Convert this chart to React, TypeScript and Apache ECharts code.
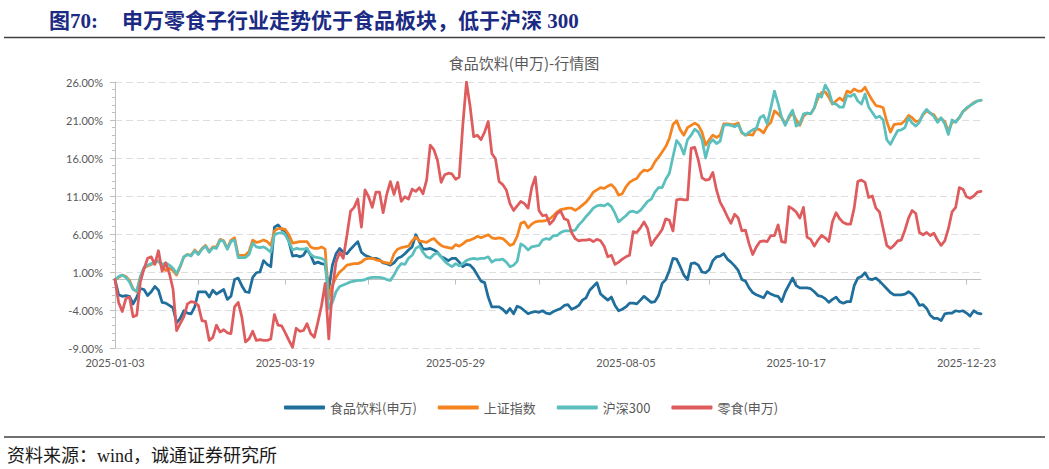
import React, { useEffect, useRef } from 'react';
import * as echarts from 'echarts';

// ---------- categories (trading days) ----------
const HOLIDAYS: string[] = [
  '2025-01-28', '2025-01-29', '2025-01-30', '2025-01-31', '2025-02-03', '2025-02-04',
  '2025-04-04', '2025-05-01', '2025-05-02', '2025-05-05', '2025-06-02',
  '2025-10-01', '2025-10-02', '2025-10-03', '2025-10-06', '2025-10-07', '2025-10-08',
];
function buildTradingDays(start: string, end: string, holidays: string[]): string[] {
  const out: string[] = [];
  const [sy, sm, sd] = start.split('-').map(Number);
  const [ey, em, ed] = end.split('-').map(Number);
  let t = Date.UTC(sy, sm - 1, sd);
  const tEnd = Date.UTC(ey, em - 1, ed);
  while (t <= tEnd) {
    const d = new Date(t);
    const wd = d.getUTCDay();
    const s = d.toISOString().slice(0, 10);
    if (wd !== 0 && wd !== 6 && holidays.indexOf(s) < 0) out.push(s);
    t += 86400000;
  }
  return out;
}
const categories: string[] = buildTradingDays('2025-01-03', '2025-12-29', HOLIDAYS);

const seriesNames = ['食品饮料(申万)', '上证指数', '沪深300', '零食(申万)'];

// ---------- series values (%) ----------
const foodBeverage: number[] = [
  0.0, -2.0, -2.2, -2.1, -2.2, -3.2, -2.3, -1.2, -1.3, -2.1,
  -1.6, -0.9, -1.4, -3.0, -3.1, -3.4, -3.7, -5.7, -5.1, -4.1,
  -4.4, -4.5, -3.6, -1.6, -1.6, -1.6, -2.3, -1.4, -1.9, -1.6,
  -1.3, -2.6, -2.2, 0.0, 0.2, -0.8, -1.6, -1.7, 0.3, 0.9,
  1.0, 2.5, 2.0, 1.7, 6.9, 7.2, 6.6, 6.4, 5.0, 3.1,
  3.2, 3.0, 3.2, 4.0, 3.2, 2.1, 2.3, 2.1, 2.0, -1.2,
  1.9, 3.4, 4.1, 3.6, 3.4, 4.0, 4.5, 5.0, 3.6, 3.2,
  3.0, 2.8, 2.8, 2.6, 2.2, 2.1, 1.9, 2.2, 2.8, 3.0,
  3.4, 3.9, 4.3, 5.9, 5.0, 4.0, 4.0, 4.1, 3.9, 3.6,
  3.0, 2.8, 2.5, 2.8, 2.8, 2.3, 1.7, 2.0, 1.9, 1.4,
  0.6, -0.2, -0.4, -2.3, -3.6, -3.6, -3.6, -3.9, -4.4, -3.8,
  -4.5, -3.5, -3.7, -4.1, -4.5, -4.3, -4.2, -4.3, -4.1, -4.4,
  -4.5, -4.2, -4.0, -3.8, -3.4, -3.3, -3.9, -3.7, -3.4, -2.7,
  -2.4, -1.4, -0.9, -0.4, -1.9, -2.3, -2.7, -2.3, -3.4, -4.1,
  -3.9, -3.6, -3.1, -3.1, -3.2, -2.7, -2.2, -2.6, -3.0, -2.9,
  -2.1, -0.5, 0.0, 1.2, 2.8, 2.7, 1.7, 0.6, 0.0, 2.1,
  2.2, 1.9, 1.0, 0.9, 1.3, 2.5, 3.0, 3.1, 3.4, 2.7,
  2.3, 1.8, 1.2, 0.0, -0.2, -1.1, -1.7, -2.0, -2.2, -2.4,
  -1.6, -1.9, -2.1, -2.2, -2.9, -1.6, -0.7, 0.2, -0.8, -1.1,
  -1.1, -1.1, -1.2, -1.6, -2.1, -2.2, -2.5, -3.0, -2.6, -2.3,
  -2.9, -3.1, -2.9, -2.9, -0.8, 0.2, 0.4, 0.9, 0.1, 0.0,
  0.2, -0.2, -0.7, -1.2, -1.7, -2.0, -2.0, -2.0, -1.9, -1.6,
  -1.9, -2.5, -3.4, -3.3, -3.8, -4.7, -5.1, -5.1, -5.4, -4.5,
  -4.4, -4.4, -4.1, -4.2, -4.1, -4.4, -4.8, -4.1, -4.4, -4.5,
];

const shanghaiIndex: number[] = [
  0.0, 0.3, 0.6, 0.4, -0.1, -1.2, -1.6, 0.3, 1.5, 1.8,
  2.0, 2.2, 2.5, 1.7, 1.2, 1.5, 1.2, 0.6, 1.7, 3.0,
  3.3, 3.2, 3.9, 3.4, 4.1, 4.5, 3.7, 4.3, 4.3, 5.3,
  5.1, 4.1, 5.2, 5.5, 3.2, 3.2, 3.2, 3.7, 5.2, 4.9,
  5.0, 5.2, 5.0, 4.5, 6.4, 6.7, 6.7, 6.6, 5.9, 4.8,
  4.9, 5.0, 5.0, 5.0, 4.3, 4.1, 4.1, 4.3, 4.0, -2.5,
  -0.7, 0.3, 1.0, 1.4, 1.9, 2.0, 2.1, 2.1, 2.3, 2.7,
  2.8, 2.8, 2.6, 2.5, 2.3, 2.2, 2.1, 3.4, 4.0, 4.2,
  4.3, 4.4, 5.1, 5.6, 5.1, 5.0, 4.9, 5.2, 5.4, 4.9,
  4.5, 4.3, 4.2, 4.1, 4.6, 4.4, 4.7, 5.1, 5.2, 5.4,
  5.7, 5.5, 5.7, 5.9, 5.5, 5.4, 5.5, 5.4, 5.0, 4.5,
  4.7, 5.7, 7.4, 7.6, 6.8, 7.3, 7.6, 7.7, 7.7, 7.8,
  8.0, 8.4, 8.9, 9.2, 9.3, 9.4, 9.4, 9.1, 9.4, 9.8,
  10.2, 10.8, 11.5, 11.8, 12.1, 12.0, 12.3, 12.5, 12.0, 11.1,
  11.3, 12.2, 12.8, 13.1, 13.3, 14.0, 14.4, 14.3, 14.6, 15.5,
  16.1, 16.8, 17.5, 18.6, 20.4, 20.9, 19.7, 19.0, 20.0, 20.3,
  20.6, 20.3, 19.4, 17.7, 18.4, 19.0, 18.7, 19.0, 20.5, 20.5,
  20.4, 20.4, 20.6, 19.3, 19.0, 19.1, 19.0, 19.9, 19.7, 19.3,
  20.2, 20.7, 22.2, 21.8, 21.3, 20.5, 21.3, 22.0, 21.0, 20.3,
  21.5, 21.9, 21.8, 22.6, 23.9, 24.6, 24.7, 24.0, 23.1, 23.5,
  23.9, 23.5, 24.8, 24.6, 25.1, 24.8, 24.8, 25.3, 24.4, 23.6,
  22.9, 22.8, 22.6, 20.8, 19.4, 20.4, 20.5, 20.5, 20.9, 21.6,
  21.3, 20.8, 20.9, 21.7, 22.2, 21.9, 21.7, 20.9, 21.2, 20.8,
  19.5, 20.7, 20.8, 21.3, 22.1, 22.5, 22.9, 23.3, 23.5, 23.6,
];

const csi300: number[] = [
  0.0, 0.4, 0.6, 0.3, -0.3, -1.3, -1.5, 0.4, 1.6, 1.9,
  2.1, 2.3, 2.4, 2.0, 2.2, 1.9, 1.5, 0.8, 1.8, 3.0,
  3.3, 3.1, 3.8, 3.3, 4.0, 4.4, 3.6, 4.2, 4.1, 5.2,
  5.0, 4.0, 5.0, 5.2, 2.9, 2.9, 2.9, 3.3, 4.8, 4.3,
  4.2, 4.3, 4.0, 3.6, 5.9, 6.1, 6.2, 5.9, 5.0, 3.9,
  4.1, 4.0, 4.0, 4.1, 3.3, 3.0, 2.9, 2.8, 2.5, -3.8,
  -3.0, -1.6, -0.9, -0.7, -0.5, -0.3, -0.2, -0.1, -0.1, 0.0,
  0.2, 0.3, 0.3, 0.3, 0.2, 0.0, -0.1, 0.6, 1.5, 2.1,
  2.0, 2.8, 3.2, 4.1, 4.4, 3.6, 3.0, 2.8, 3.3, 3.5,
  3.0, 2.4, 2.0, 1.7, 2.1, 1.8, 2.1, 2.5, 2.7, 2.8,
  2.7, 2.8, 2.8, 3.0, 2.3, 2.6, 2.6, 2.7, 2.3, 1.7,
  1.9, 2.4, 4.7, 4.4, 3.9, 4.3, 4.4, 4.5, 5.2, 5.4,
  5.3, 5.8, 5.8, 6.2, 6.4, 6.4, 6.4, 6.5, 7.2, 7.7,
  8.3, 8.8, 9.4, 9.7, 9.8, 9.7, 10.0, 9.6, 8.7, 7.6,
  8.0, 8.4, 8.9, 9.0, 8.8, 9.1, 9.7, 10.3, 10.6, 11.5,
  12.1, 12.1, 13.2, 14.0, 16.2, 18.3, 17.7, 16.5, 18.4, 19.0,
  19.8, 19.4, 18.4, 16.0, 17.9, 18.4, 17.9, 18.2, 20.3, 20.4,
  20.3, 20.1, 20.4, 19.4, 19.0, 19.4, 19.7, 19.9, 21.3, 21.6,
  20.5, 22.6, 24.8, 23.2, 21.3, 20.3, 21.5, 22.3, 20.2, 20.5,
  21.8, 21.9, 21.8, 22.6, 24.4, 24.0, 25.6, 24.8, 23.2, 23.1,
  22.7, 22.7, 24.2, 24.1, 24.4, 23.5, 23.1, 24.4, 22.7, 22.0,
  21.3, 21.5, 21.0, 18.4, 17.8, 18.7, 19.6, 19.7, 20.0, 21.3,
  20.6, 20.2, 20.7, 21.8, 22.4, 21.9, 21.5, 20.7, 21.3, 20.5,
  19.1, 21.0, 20.7, 21.3, 22.1, 22.6, 22.9, 23.2, 23.5, 23.6,
];

const snacks: number[] = [
  0.0, -3.0, -4.2, -2.5, -2.3, -4.9, -4.7, -0.3, 1.4, 2.8,
  3.0, 2.0, 3.8, 1.1, 2.2, 0.8, -1.2, -6.7, -5.8, -4.9,
  -3.2, -2.9, -3.0, -3.4, -5.4, -5.5, -8.0, -7.6, -6.0, -6.9,
  -6.6, -7.0, -7.1, -3.6, -3.0, -4.9, -8.2, -7.8, -6.8, -8.0,
  -7.9, -8.0, -8.0, -7.8, -4.6, -6.0, -6.1, -7.0, -8.0, -8.9,
  -6.4, -6.8, -6.7, -5.8, -7.1, -7.6, -5.6, -3.4, -0.5, -7.8,
  -1.2, 2.3, 3.6, 2.8, 5.8, 9.0, 9.5, 10.6, 6.9, 11.8,
  10.9, 9.5, 11.5, 11.5, 8.8, 11.2, 12.9, 11.2, 12.8, 10.3,
  10.9, 10.6, 11.9, 11.6, 12.1, 11.3, 13.1, 17.7, 17.1, 15.7,
  12.8, 13.8, 14.0, 13.9, 13.2, 13.5, 20.4, 26.0, 22.8, 18.8,
  19.0, 18.4, 19.4, 20.8, 16.6, 15.9, 12.9, 12.5, 11.8, 10.0,
  9.1, 9.7, 10.3, 10.0, 9.4, 12.1, 13.5, 9.1, 8.4, 8.5,
  7.3, 7.8, 8.7, 9.0, 8.0, 7.8, 6.2, 5.4, 5.1, 5.2,
  5.2, 5.3, 5.0, 5.3, 5.1, 4.4, 3.0, 3.2, 2.0, 2.3,
  2.7, 3.0, 3.2, 6.3, 6.2, 6.8, 7.6, 6.7, 4.5, 5.3,
  5.9, 6.6, 8.0, 7.8, 6.4, 10.5, 10.6, 10.5, 10.5, 17.3,
  17.4, 15.7, 13.4, 13.1, 13.2, 14.1, 11.8, 10.2, 9.3, 8.3,
  7.4, 8.6, 8.1, 6.4, 6.5, 4.7, 3.3, 4.3, 5.0, 5.1,
  5.0, 5.8, 5.8, 7.2, 5.0, 4.9, 9.6, 9.3, 8.9, 8.1,
  9.5, 5.6, 5.3, 4.4, 5.2, 5.8, 5.5, 5.0, 7.6, 8.8,
  8.0, 7.5, 7.3, 7.3, 9.4, 12.9, 13.1, 12.8, 10.8, 11.0,
  9.4, 8.9, 6.7, 4.5, 4.1, 4.5, 5.1, 5.2, 6.5, 8.1,
  9.1, 8.7, 6.2, 5.9, 6.2, 5.8, 6.1, 5.2, 4.5, 5.1,
  6.7, 8.9, 9.5, 12.1, 11.9, 10.9, 10.7, 11.0, 11.5, 11.6,
];

const seriesColors = ['#1F6E9C', '#F5841F', '#5BBFBD', '#DE5B5E'];
const seriesValues = [foodBeverage, shanghaiIndex, csi300, snacks];

const yMin = -9;
const yMax = 26;
const yStep = 5;
const labelEvery = 47;
const tickIdx = new Set<number>([0, 23, 47, 70, 94, 117, 141, 164, 188, 211, 235]);

const headerLabel = '图70:';
const headerTitle = '申万零食子行业走势优于食品板块，低于沪深 300';
const chartTitle = '食品饮料(申万)-行情图';
const sourceNote = '资料来源：wind，诚通证券研究所';

const W = 1049;
const H = 469;
const GRID_TOP = 82;
const GRID_BOTTOM = 121;
const PLOT_H = H - GRID_TOP - GRID_BOTTOM;
// distance (px) from the plot's bottom edge up to the zero line
const zeroOffset = -PLOT_H * (0 - yMin) / (yMax - yMin);

export default function App() {
  const ref = useRef<HTMLDivElement | null>(null);

  useEffect(() => {
    document.body.style.margin = '0';
    if (!ref.current) return;
    const chart = echarts.init(ref.current, undefined, { renderer: 'svg' });
    const option: any = {
      animation: false,
      backgroundColor: '#ffffff',
      title: {
        text: chartTitle,
        left: 519,
        top: 50,
        textAlign: 'center',
        textStyle: {
          fontSize: 15,
          fontWeight: 'normal',
          color: '#595959',
          fontFamily: '"Noto Sans CJK SC", sans-serif',
        },
      },
      legend: {
        data: seriesNames,
        left: 279,
        top: 396,
        icon: 'roundRect',
        itemWidth: 41,
        itemHeight: 4,
        itemGap: 21,
        textStyle: {
          fontSize: 13,
          color: '#595959',
          fontFamily: '"Noto Sans CJK SC", sans-serif',
        },
      },
      grid: { left: 115, right: 68, top: GRID_TOP, bottom: GRID_BOTTOM, containLabel: false },
      xAxis: [
        {
          type: 'category',
          data: categories,
          boundaryGap: false,
          position: 'bottom',
          axisLine: { show: false, onZero: false },
          axisTick: { show: false },
          axisLabel: {
            interval: (i: number) => i % labelEvery === 0,
            margin: 9,
            color: '#595959',
            fontSize: 11,
            fontFamily: 'Lato, sans-serif',
          },
          splitLine: { show: false },
        },
        {
          type: 'category',
          data: categories,
          boundaryGap: false,
          position: 'bottom',
          offset: zeroOffset,
          axisLine: { show: true, onZero: false, lineStyle: { color: '#bfbfbf', width: 1 } },
          axisTick: {
            show: true,
            length: 5,
            interval: (i: number) => tickIdx.has(i),
            lineStyle: { color: '#bfbfbf' },
          },
          axisLabel: { show: false },
          splitLine: { show: false },
        },
      ],
      yAxis: {
        type: 'value',
        min: yMin,
        max: yMax,
        interval: yStep,
        axisLine: { show: true, lineStyle: { color: '#bfbfbf' } },
        axisTick: { show: true, length: 5, lineStyle: { color: '#bfbfbf' } },
        minorTick: { show: true, splitNumber: 5, length: 3, lineStyle: { color: '#bfbfbf' } },
        axisLabel: {
          formatter: (v: number) => v.toFixed(2) + '%',
          color: '#595959',
          fontSize: 11,
          fontFamily: 'Lato, sans-serif',
          margin: 12,
        },
        splitLine: { show: true, lineStyle: { type: [7, 4], color: '#dedede', width: 1 } },
      },
      series: seriesNames.map((name, k) => ({
        name,
        type: 'line',
        xAxisIndex: 0,
        data: seriesValues[k],
        showSymbol: false,
        symbol: 'none',
        lineStyle: { width: 2.75, color: seriesColors[k], join: 'round', cap: 'round' },
        itemStyle: { color: seriesColors[k] },
        emphasis: { disabled: true },
      })),
      graphic: [
        {
          type: 'text',
          left: 49,
          top: 10,
          style: {
            text: headerLabel,
            fontSize: 21,
            fontWeight: 'bold',
            fill: '#1B2A83',
            fontFamily: '"Liberation Serif", "Noto Sans CJK SC", serif',
          },
        },
        {
          type: 'text',
          left: 122,
          top: 10,
          style: {
            text: headerTitle,
            fontSize: 21,
            fontWeight: 'bold',
            fill: '#1B2A83',
            fontFamily: '"Liberation Serif", "Noto Sans CJK SC", serif',
          },
        },
        {
          type: 'line',
          shape: { x1: 4, y1: 37.5, x2: 1045, y2: 37.5 },
          style: { stroke: '#404040', lineWidth: 1.5 },
        },
        {
          type: 'line',
          shape: { x1: 4, y1: 437, x2: 1045, y2: 437 },
          style: { stroke: '#404040', lineWidth: 1.5 },
        },
        {
          type: 'text',
          left: 7,
          top: 447,
          style: {
            text: sourceNote,
            fontSize: 18,
            fill: '#1a1a1a',
            fontFamily: '"Liberation Serif", "Noto Sans CJK SC", serif',
          },
        },
      ],
    };
    chart.setOption(option);
    return () => {
      chart.dispose();
    };
  }, []);

  return <div ref={ref} style={{ width: W, height: H, position: 'absolute', left: 0, top: 0 }} />;
}
